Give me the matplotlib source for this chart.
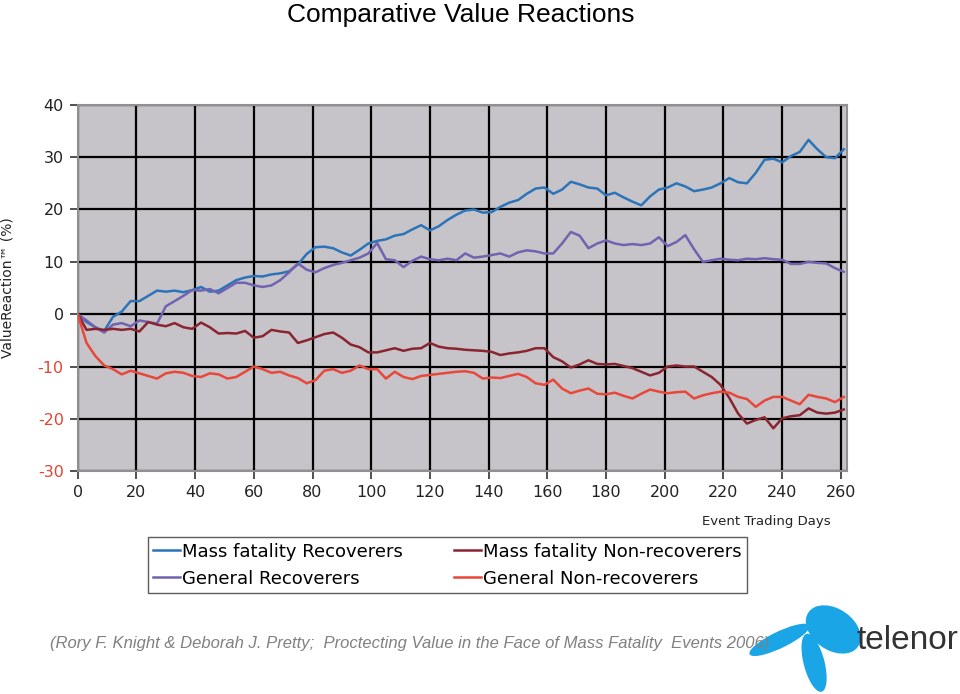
import matplotlib
matplotlib.use("Agg")
import matplotlib.pyplot as plt
from matplotlib.patches import Ellipse
import numpy as np

# event trading days, read every 3 days
days = np.arange(0, 262, 3)

mf_recoverers = [
    0, -1.5, -2.5, -3.2, -0.5, 0.5, 2.5, 2.5, 3.5, 4.5,
    4.3, 4.5, 4.2, 4.6, 5.2, 4.3, 4.5, 5.5, 6.5, 7.0,
    7.3, 7.2, 7.6, 7.8, 8.2, 9.5, 11.5, 12.8, 12.9, 12.6,
    11.8, 11.2, 12.3, 13.5, 14.0, 14.3, 15.0, 15.3, 16.2, 17.0,
    16.0, 16.8, 18.0, 19.0, 19.8, 20.0, 19.4, 19.5, 20.5, 21.3,
    21.8, 23.0, 24.0, 24.2, 23.0, 23.8, 25.3, 24.8, 24.2, 24.0,
    22.7, 23.2, 22.3, 21.5, 20.8, 22.5, 23.8, 24.2, 25.0, 24.4,
    23.5, 23.8, 24.2, 25.0, 26.0, 25.2, 25.0, 27.0, 29.5, 29.7,
    29.0, 30.2, 31.0, 33.3, 31.5, 30.0, 29.8, 31.5,
]
gen_recoverers = [
    0, -1.2, -2.5, -3.5, -2.0, -1.7, -2.3, -1.2, -1.5, -1.8,
    1.5, 2.5, 3.5, 4.6, 4.5, 4.8, 4.0, 5.0, 6.0, 6.0,
    5.5, 5.2, 5.5, 6.5, 8.0, 9.7, 8.5, 8.0, 8.8, 9.4,
    9.8, 10.3, 10.8, 11.6, 13.6, 10.5, 10.3, 9.0, 10.2, 11.0,
    10.5, 10.3, 10.6, 10.3, 11.6, 10.8, 11.0, 11.3, 11.6, 11.0,
    11.8, 12.2, 12.0, 11.6, 11.6, 13.5, 15.7, 15.0, 12.6, 13.5,
    14.1, 13.5, 13.2, 13.4, 13.2, 13.5, 14.7, 13.0, 13.8, 15.1,
    12.4, 10.0, 10.3, 10.6, 10.4, 10.3, 10.6, 10.5, 10.7, 10.5,
    10.4, 9.6, 9.6, 10.0, 9.8, 9.7, 8.8, 8.1,
]
mf_non_recoverers = [
    0, -3.0, -2.8, -3.0, -2.8, -3.0, -2.8, -3.3, -1.5, -2.0,
    -2.3, -1.7, -2.5, -2.8, -1.6, -2.5, -3.7, -3.6, -3.7, -3.2,
    -4.5, -4.2, -3.0, -3.3, -3.5, -5.5, -5.0, -4.4, -3.8, -3.5,
    -4.5, -5.8, -6.3, -7.3, -7.3, -6.9, -6.5, -7.0, -6.6, -6.5,
    -5.5, -6.2, -6.5, -6.6, -6.8, -6.9, -7.0, -7.2, -7.8, -7.5,
    -7.3, -7.0, -6.5, -6.5, -8.2, -9.0, -10.2, -9.6, -8.8, -9.5,
    -9.6, -9.5, -9.9, -10.3, -11.0, -11.7, -11.2, -10.0, -9.8, -10.0,
    -10.0, -11.0, -12.0, -13.5, -16.0, -19.0, -20.9, -20.2, -19.7, -21.8,
    -19.9, -19.5, -19.3, -18.0, -18.8, -19.0, -18.8, -18.2,
]
gen_non_recoverers = [
    0, -5.5, -8.0, -9.8, -10.5, -11.5, -10.8, -11.3, -11.8, -12.3,
    -11.3, -11.0, -11.2, -11.8, -12.0, -11.3, -11.5, -12.3, -12.0, -11.0,
    -10.0, -10.5, -11.2, -11.0, -11.7, -12.2, -13.2, -12.6, -10.8, -10.5,
    -11.2, -10.8, -9.8, -10.5, -10.5, -12.3, -11.0, -12.0, -12.4, -11.8,
    -11.6, -11.4, -11.2, -11.0, -10.9, -11.2, -12.3, -12.1, -12.2, -11.8,
    -11.4, -12.0, -13.2, -13.5, -12.5, -14.2, -15.1, -14.6, -14.2, -15.2,
    -15.3, -15.0, -15.6, -16.1, -15.2, -14.4, -14.8, -15.1, -14.9, -14.8,
    -16.1, -15.5, -15.1, -14.8, -15.0, -15.8, -16.2, -17.7, -16.5, -15.8,
    -15.8, -16.5, -17.2, -15.4, -15.8, -16.1, -16.8, -15.8,
]

series = [
    ("Mass fatality Recoverers", mf_recoverers, "#2b74b9"),
    ("General Recoverers", gen_recoverers, "#7262b0"),
    ("Mass fatality Non-recoverers", mf_non_recoverers, "#8a2430"),
    ("General Non-recoverers", gen_non_recoverers, "#e8473a"),
]

x_ticks = list(range(0, 261, 20))
y_ticks = list(range(-30, 41, 10))

fig = plt.figure(figsize=(9.6, 6.94), dpi=100)
ax = fig.add_axes([0.081, 0.321, 0.801, 0.528])
ax.set_facecolor("#c6c4c9")

for label, vals, col in series:
    ax.plot(days, vals, color=col, lw=1.8, label=label, zorder=3)

ax.set_xlim(0, 262)
ax.set_ylim(-30, 40)
ax.set_xticks(x_ticks)
ax.set_yticks(y_ticks)
ax.grid(True, color="black", lw=1.6, zorder=1)
ax.set_axisbelow(True)
for s in ax.spines.values():
    s.set_color("#909090")
    s.set_linewidth(1.5)

ax.tick_params(axis="both", length=6, width=1.2, color="#333333",
               labelsize=11.5, pad=4)
ax.set_xticklabels([str(t) for t in x_ticks], color="#222222")
ax.set_yticklabels([str(t) for t in y_ticks])
for t, lab in zip(y_ticks, ax.get_yticklabels()):
    lab.set_color("#e04535" if t < 0 else "#222222")

ax.set_ylabel("ValueReaction™ (%)", fontsize=10, color="#222222")
ax.yaxis.set_label_coords(-0.082, 0.5)
fig.text(0.798, 0.248, "Event Trading Days", fontsize=9.5, color="#222222",
         ha="center", va="center")

fig.legend(loc="upper left", bbox_to_anchor=(0.154, 0.148, 0.624, 0.078),
           mode="expand", ncol=2, fontsize=13, handlelength=1.5,
           handletextpad=0.1, borderpad=0.3, labelspacing=0.5,
           frameon=True, fancybox=False, edgecolor="#333333",
           borderaxespad=0)

fig.text(0.48, 0.995, "Comparative Value Reactions", fontsize=19,
         family="Liberation Sans", ha="center", va="top", color="black")
fig.text(0.052, 0.073, "(Rory F. Knight & Deborah J. Pretty;  Proctecting Value in the Face of Mass Fatality  Events 2006)",
         fontsize=12, style="italic", family="Liberation Sans", color="#808080",
         ha="left", va="center")

# telenor logo, rough shape
logo = "#1aa6e6"
for (cx, cy), w, h, ang in [((0.868, 0.093), 0.05, 0.075, 30),
                            ((0.812, 0.078), 0.022, 0.075, -55),
                            ((0.848, 0.045), 0.022, 0.085, 10)]:
    fig.patches.append(Ellipse((cx, cy), w, h, angle=ang,
                               transform=fig.transFigure,
                               facecolor=logo, edgecolor="none"))
fig.text(0.998, 0.077, "telenor", fontsize=24, family="Liberation Sans",
         color="#333333", ha="right", va="center")

fig.savefig("out.png", dpi=100)
